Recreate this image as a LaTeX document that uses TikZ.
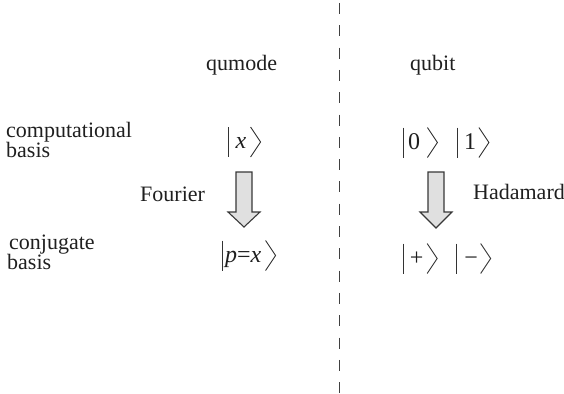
\documentclass[tikz,border=0pt]{standalone}
\usepackage{fontspec}
\setmainfont{Liberation Serif}
\newcommand{\ketdelim}[3]{%
  \draw[ketline] ([shift={(-#2,-21.5)}]#1.base west) -- ([shift={(-#2,8.5)}]#1.base west);
  \draw[ketline] ([shift={(#3,-21.5)}]#1.base east) -- ([shift={(#3+10,-6.5)}]#1.base east) -- ([shift={(#3,8.5)}]#1.base east);}
\begin{document}
\begin{tikzpicture}[x=1pt,y=-1pt,
  lbl/.style={inner sep=0pt, anchor=base west, text=black!88, font=\fontsize{22}{24}\selectfont},
  ket/.style={lbl, font=\fontsize{24}{26}\selectfont},
  ketline/.style={draw=black!80, line width=0.9pt, line join=miter},
  arr/.style={draw=black!78, fill=black!12, line width=1.1pt, line join=miter},
  divider/.style={draw=black!75, line width=1pt, dash pattern=on 11pt off 11.3pt}]
\useasboundingbox (0,0) rectangle (564,393);
\coordinate (dtop) at (339,3);
\coordinate (dbot) at (339,393);
\draw[divider] (dtop) -- (dbot);
\node[lbl] (qumode) at (206,71) {qumode};
\node[lbl] (qubit) at (410,71) {qubit};
\node[lbl] (comp) at (6,137) {computational};
\node[lbl] (compb) at (6,157) {basis};
\node[lbl] (conj) at (9,249) {conjugate};
\node[lbl] (conjb) at (7,269) {basis};
\node[lbl] (four) at (140,201) {Fourier};
\node[lbl] (had) at (473,199) {Hadamard};
\node[ket] (kx) at (235.5,148.5) {\textit{x}};
\node[ket] (kp) at (225,262) {\textit{p}=\textit{x}};
\node[ket] (k0) at (408,149) {0};
\node[ket] (k1) at (464,149) {1};
\node[ket] (kplus) at (409.75,265) {+};
\node[ket] (kminus) at (464.25,265) {−};
\ketdelim{kx}{7.5}{4}
\ketdelim{kp}{2.3}{4}
\ketdelim{k0}{5}{7}
\ketdelim{k1}{7}{2.5}
\ketdelim{kplus}{6.5}{3.5}
\ketdelim{kminus}{7.5}{2.5}
\draw[arr] (236,172) -- (252,172) -- (252,212) -- (260,212) -- (244,227) -- (228,212) -- (236,212) -- cycle;
\draw[arr] (428,172) -- (444,172) -- (444,212) -- (452,212) -- (436,228) -- (420,212) -- (428,212) -- cycle;
\end{tikzpicture}
\end{document}
